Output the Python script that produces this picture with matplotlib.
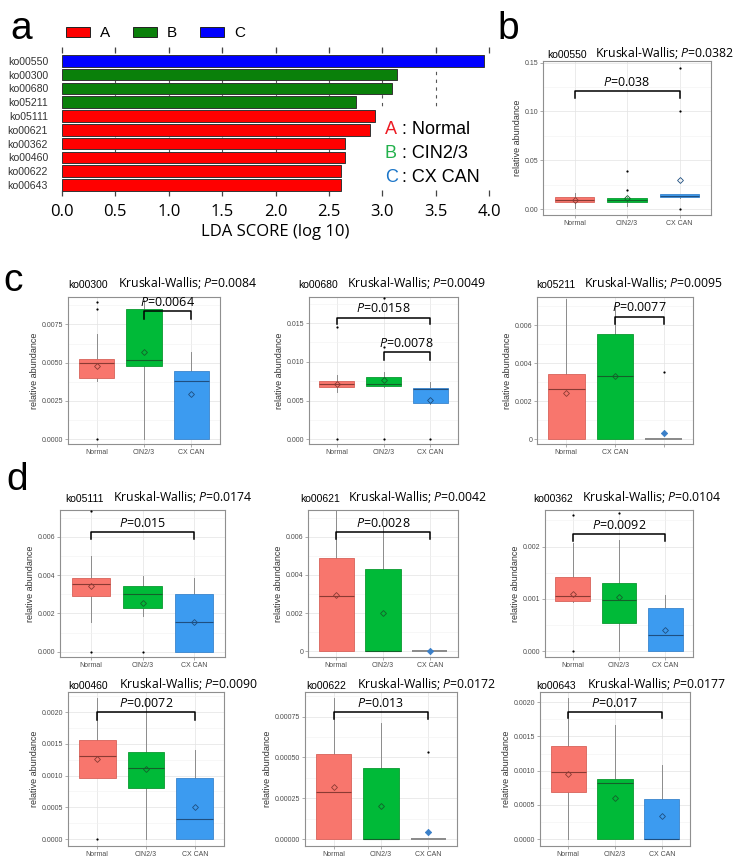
import matplotlib
matplotlib.use("Agg")
import matplotlib.pyplot as plt
from matplotlib.patches import Rectangle
from matplotlib.ticker import MultipleLocator

# ------------------------------------------------------------------------------------------
# figure size in pixels, everything below is placed in pixel units of the reference
W, H = 737, 865

plt.rcParams["mathtext.fontset"] = "custom"
plt.rcParams["mathtext.rm"] = "Open Sans"
plt.rcParams["mathtext.it"] = "Open Sans:italic"

# ------------------------------------------------------------------------------------------
# panel a: LDA scores
lda_features = ["ko00550", "ko00300", "ko00680", "ko05211", "ko05111",
                "ko00621", "ko00362", "ko00460", "ko00622", "ko00643"]
lda_scores = [3.95, 3.135, 3.09, 2.754, 2.93, 2.885, 2.65, 2.65, 2.617, 2.61]
lda_class = ["C", "B", "B", "B", "A", "A", "A", "A", "A", "A"]
lda_ticks = [0.0, 0.5, 1.0, 1.5, 2.0, 2.5, 3.0, 3.5, 4.0]
class_letters = ["A", "B", "C"]
group_names = ["Normal", "CIN2/3", "CX CAN"]

# ------------------------------------------------------------------------------------------
# box panels: per group [whislo, q1, median, q3, whishi], means, outliers
ko00550_box = [[0.0007, 0.0068, 0.0092, 0.0119, 0.0166],
               [0.003, 0.0068, 0.0088, 0.0112, 0.0125],
               [0.0115, 0.0119, 0.0135, 0.0153, 0.0155]]
ko00550_mean = [0.0092, 0.0115, 0.0295]
ko00550_fliers = [[], [0.02, 0.0385], [0.0, 0.1005, 0.1445]]
ko00550_kw = "0.0382"
ko00550_pairs = [(1, 3, 0.114, 0.121, "0.038")]

ko00300_box = [[0.0038, 0.00398, 0.00496, 0.00526, 0.00685],
               [0.0, 0.00478, 0.00518, 0.00849, 0.0091],
               [0.0, 0.0, 0.0038, 0.00446, 0.00568]]
ko00300_mean = [0.0048, 0.00568, 0.00296]
ko00300_fliers = [[0.0, 0.00849, 0.00894], [], []]
ko00300_kw = "0.0084"
ko00300_pairs = [(2, 3, 0.00783, 0.00837, "0.0064")]

ko00680_box = [[0.0061, 0.00674, 0.00717, 0.00751, 0.00824],
               [0.0068, 0.00687, 0.00718, 0.00811, 0.00867],
               [0.0045, 0.00469, 0.00654, 0.00667, 0.00738]]
ko00680_mean = [0.00715, 0.0077, 0.00504]
ko00680_fliers = [[0.0, 0.01456], [0.0, 0.01187, 0.0182], [0.0]]
ko00680_kw = "0.0049"
ko00680_pairs = [(1, 3, 0.01487, 0.01572, "0.0158"), (2, 3, 0.01026, 0.01123, "0.0078")]

ko05211_box = [[0.0, 0.0, 0.00265, 0.00344, 0.0074],
               [0.0, 0.0, 0.00335, 0.00553, 0.0071],
               [0.0, 0.0, 0.0, 0.0, 0.0]]
ko05211_mean = [0.00245, 0.0033, 0.00033]
ko05211_fliers = [[], [], [0.00356]]
ko05211_kw = "0.0095"
ko05211_pairs = [(2, 3, 0.00609, 0.00646, "0.0077")]
ko05211_xlabels = ["Normal", "CX CAN", ""]

ko05111_box = [[0.00157, 0.00293, 0.00352, 0.00383, 0.005],
               [0.00188, 0.00227, 0.003, 0.00343, 0.00395],
               [0.0, 0.0, 0.00153, 0.00301, 0.00386]]
ko05111_mean = [0.00345, 0.00256, 0.00153]
ko05111_fliers = [[0.0, 0.00735], [0.0], []]
ko05111_kw = "0.0174"
ko05111_pairs = [(1, 3, 0.00587, 0.00623, "0.015")]

ko00621_box = [[0.0, 0.0, 0.0029, 0.00489, 0.00738],
               [0.0, 0.0, 0.0, 0.00433, 0.0065],
               [0.0, 0.0, 0.0, 0.0, 0.0]]
ko00621_mean = [0.00293, 0.00203, 0.0]
ko00621_fliers = [[], [], []]
ko00621_kw = "0.0042"
ko00621_pairs = [(1, 3, 0.0059, 0.00625, "0.0028")]

ko00362_box = [[0.00095, 0.000957, 0.00106, 0.00141, 0.00207],
               [0.0, 0.00054, 0.00098, 0.0013, 0.00213],
               [0.0, 0.0, 0.00031, 0.00083, 0.00107]]
ko00362_mean = [0.0011, 0.00103, 0.00041]
ko00362_fliers = [[0.0, 0.00261], [0.00265], []]
ko00362_kw = "0.0104"
ko00362_pairs = [(1, 3, 0.00211, 0.00224, "0.0092")]

ko00460_box = [[0.00097, 0.00097, 0.00131, 0.00156, 0.00222],
               [0.0, 0.0008, 0.00112, 0.00137, 0.00222],
               [0.0, 0.0, 0.000315, 0.00097, 0.00141]]
ko00460_mean = [0.00126, 0.0011, 0.0005]
ko00460_fliers = [[0.0], [], []]
ko00460_kw = "0.0090"
ko00460_pairs = [(1, 3, 0.00188, 0.002, "0.0072")]

ko00622_box = [[0.0, 0.0, 0.000291, 0.000521, 0.000862],
               [0.0, 0.0, 0.0, 0.000434, 0.000713],
               [0.0, 0.0, 0.0, 0.0, 0.0]]
ko00622_mean = [0.000322, 0.000205, 0.0000446]
ko00622_fliers = [[], [], [0.000535]]
ko00622_kw = "0.0172"
ko00622_pairs = [(1, 3, 0.000733, 0.000776, "0.013")]

ko00643_box = [[0.0, 0.000683, 0.000976, 0.001366, 0.00206],
               [0.0, 0.0, 0.00082, 0.000873, 0.00167],
               [0.0, 0.0, 0.0, 0.00058, 0.00108]]
ko00643_mean = [0.00095, 0.000605, 0.00034]
ko00643_fliers = [[], [], []]
ko00643_kw = "0.0177"
ko00643_pairs = [(1, 3, 0.00177, 0.00186, "0.017")]

# ------------------------------------------------------------------------------------------
# colors
lda_colors = {"A": "#ff0000", "B": "#0a800a", "C": "#0000ff"}
legend_text_colors = {"A": "#ed1c24", "B": "#22b14c", "C": "#1b75c8"}
box_fill = ["#f8766d", "#00ba38", "#3c9bf0"]
box_edge = ["#d8625a", "#0a9a30", "#3a85cc"]
box_dark = ["#8a3a33", "#14602a", "#1f4f80"]


def px_box(l, t, r, b):
    return [l / W, 1 - b / H, (r - l) / W, (b - t) / H]


def px_xy(x, y):
    return x / W, 1 - y / H


fig = plt.figure(figsize=(W / 100, H / 100), dpi=100)

# ------------------------------------------------------------------------------------------
print("** panel a")
ax_a = fig.add_axes(px_box(62, 47, 489, 196))
y_pos = list(range(len(lda_features)))
ax_a.barh(y_pos, lda_scores, height=0.84,
          color=[lda_colors[c] for c in lda_class],
          edgecolor="#333333", linewidth=0.7, zorder=2)
ax_a.set_xlim(lda_ticks[0], lda_ticks[-1])
ax_a.set_ylim(9.8, -1.0)
# dotted grid, drawn from the top down so that a dash sits at the top
ax_a.vlines(lda_ticks[1:-1], -0.95, 9.8, colors="#555555", linewidth=0.8,
            linestyles=(0, (3, 4)), zorder=0.5)
# white block behind the group text
ax_a.add_patch(Rectangle((2.97, 3.45), 1.2, 6.6, facecolor="white",
                         edgecolor="none", zorder=1))
ax_a.set_yticks(y_pos)
ax_a.set_yticklabels(lda_features, fontsize=7.6, color="#333333",
                     fontfamily="Liberation Sans")
ax_a.set_xticks(lda_ticks)
ax_a.set_xticklabels(["{:.1f}".format(t) for t in lda_ticks], fontsize=12,
                     fontfamily="Open Sans")
ax_a.tick_params(axis="y", length=0, pad=10)
ax_a.tick_params(axis="x", top=True, bottom=True, direction="in",
                 length=4, width=0.9, color="#444444", pad=6)
for crrt_spine in ax_a.spines.values():
    crrt_spine.set_visible(False)
ax_a.set_xlabel("LDA SCORE (log 10)", fontsize=12, fontfamily="Open Sans",
                labelpad=3)

# legend above panel a
for crrt_index, crrt_letter in enumerate(class_letters):
    x0 = 66 + 67 * crrt_index
    fig.patches.append(Rectangle(px_xy(x0, 36.5), 24 / W, 9.5 / H,
                                 facecolor=lda_colors[crrt_letter],
                                 edgecolor="#222222", linewidth=0.7,
                                 transform=fig.transFigure, figure=fig))
    fig.text(*px_xy(x0 + 34, 37), crrt_letter, fontsize=11,
             fontfamily="Liberation Sans", va="baseline")

# group explanation text
for crrt_index, crrt_letter in enumerate(class_letters):
    y_base = 133.5 + 24 * crrt_index
    fig.text(*px_xy(385, y_base), crrt_letter, fontsize=13,
             color=legend_text_colors[crrt_letter],
             fontfamily="Liberation Sans", va="baseline")
    fig.text(*px_xy(402, y_base), ": " + group_names[crrt_index], fontsize=13,
             fontfamily="Liberation Sans", va="baseline")


# ------------------------------------------------------------------------------------------
def draw_box_panel(rect, ko_name, box, means, fliers, kw_p, pairs, ylim,
                   ystep, yfmt, id_x, kw_x, title_y, xlabels=group_names):
    ax = fig.add_axes(px_box(*rect))
    stats = []
    for i in range(3):
        wl, q1, md, q3, wh = box[i]
        stats.append(dict(whislo=wl, q1=q1, med=md, q3=q3, whishi=wh,
                          mean=means[i], fliers=fliers[i]))
    bp = ax.bxp(stats, positions=[1, 2, 3], widths=0.75, patch_artist=True,
                showcaps=False, showmeans=True, showfliers=True)
    for i in range(3):
        flat = box[i][1] == box[i][3]
        bp["boxes"][i].set_facecolor(box_fill[i])
        bp["boxes"][i].set_edgecolor("#9a9a9a" if flat else box_edge[i])
        bp["boxes"][i].set_linewidth(1.3 if flat else 0.6)
        bp["boxes"][i].set_zorder(2)
        bp["medians"][i].set_color("#8a8a8a" if flat else box_dark[i])
        bp["medians"][i].set_linewidth(1.3 if flat else 0.8)
        bp["medians"][i].set_zorder(2.5)
        for w in bp["whiskers"][2 * i:2 * i + 2]:
            w.set_color("#8c8c8c")
            w.set_linewidth(0.7)
            w.set_zorder(1.5)
        m = bp["means"][i]
        m.set_marker("D")
        m.set_markersize(3.2 if flat else 3)
        m.set_markeredgewidth(0.6)
        m.set_markeredgecolor("#3a7fc8" if flat else box_dark[i])
        m.set_markerfacecolor("#3a7fc8" if flat else "none")
        m.set_zorder(3)
        f = bp["fliers"][i]
        f.set_marker("o")
        f.set_markersize(1.6)
        f.set_markerfacecolor("black")
        f.set_markeredgecolor("black")
        f.set_markeredgewidth(0)
        f.set_zorder(3)

    ax.set_xlim(0.4, 3.6)
    ax.set_ylim(*ylim)
    ax.set_xticks([1, 2, 3])
    ax.set_xticklabels(xlabels)
    ax.yaxis.set_major_locator(MultipleLocator(ystep))
    ax.yaxis.set_minor_locator(MultipleLocator(ystep / 2))
    ax.yaxis.set_major_formatter(yfmt)
    ax.set_axisbelow(True)
    ax.grid(which="major", color="#e3e3e3", linewidth=0.5)
    ax.grid(which="minor", axis="y", color="#f1f1f1", linewidth=0.4)
    ax.tick_params(which="major", length=2, width=0.5, color="#8c8c8c",
                   labelsize=5, labelcolor="#4d4d4d", pad=1.5)
    ax.tick_params(which="minor", length=0)
    for lbl in ax.get_xticklabels() + ax.get_yticklabels():
        lbl.set_fontfamily("Liberation Sans")
    for crrt_spine in ax.spines.values():
        crrt_spine.set_color("#8f8f8f")
        crrt_spine.set_linewidth(0.8)
    ax.set_ylabel("relative abundance", fontsize=6.5, color="#333333",
                  fontfamily="Liberation Sans", labelpad=2)

    for x1, x2, y_leg, y_top, p_txt in pairs:
        ax.plot([x1, x1, x2, x2], [y_leg, y_top, y_top, y_leg], color="black",
                linewidth=1.1, clip_on=False, zorder=4)
        ax.annotate("$P$=" + p_txt, xy=((x1 + x2) / 2, y_top), xytext=(0, 1.5),
                    textcoords="offset points", ha="center", va="bottom",
                    fontsize=9, fontfamily="Open Sans", zorder=5)

    fig.text(*px_xy(id_x, title_y), ko_name, fontsize=7.5,
             fontfamily="Liberation Sans", va="baseline")
    fig.text(*px_xy(kw_x, title_y - 1), "Kruskal-Wallis; $P$=" + kw_p,
             fontsize=8.8, fontfamily="Open Sans", va="baseline")
    return ax


def fmt(n):
    return lambda v, pos: "{:.{}f}".format(v, n)


def fmt_zero(n):
    return lambda v, pos: "0" if abs(v) < 1e-12 else "{:.{}f}".format(v, n)


print("** panel b")
draw_box_panel((543, 61, 711, 215), "ko00550", ko00550_box, ko00550_mean,
               ko00550_fliers, ko00550_kw, ko00550_pairs, (-0.0061, 0.1517),
               0.05, fmt(2), 547, 595, 58)

print("** panel c")
draw_box_panel((68, 297, 220, 444), "ko00300", ko00300_box, ko00300_mean,
               ko00300_fliers, ko00300_kw, ko00300_pairs, (-0.00031, 0.00929),
               0.0025, fmt(4), 68, 118, 288)
draw_box_panel((309, 297, 458, 444), "ko00680", ko00680_box, ko00680_mean,
               ko00680_fliers, ko00680_kw, ko00680_pairs, (-0.0006, 0.01837),
               0.005, fmt(3), 298, 347, 288)
draw_box_panel((537, 297, 693, 444), "ko05211", ko05211_box, ko05211_mean,
               ko05211_fliers, ko05211_kw, ko05211_pairs, (-0.00026, 0.00749),
               0.002, fmt_zero(3), 536, 584, 288, xlabels=ko05211_xlabels)

print("** panel d")
draw_box_panel((60, 510, 225, 657), "ko05111", ko05111_box, ko05111_mean,
               ko05111_fliers, ko05111_kw, ko05111_pairs, (-0.00028, 0.0074),
               0.002, fmt(3), 65, 113, 502)
draw_box_panel((308, 510, 458, 657), "ko00621", ko00621_box, ko00621_mean,
               ko00621_fliers, ko00621_kw, ko00621_pairs, (-0.0003, 0.0074),
               0.002, fmt_zero(3), 300, 348, 502)
draw_box_panel((545, 510, 693, 657), "ko00362", ko00362_box, ko00362_mean,
               ko00362_fliers, ko00362_kw, ko00362_pairs, (-0.00011, 0.0027),
               0.001, fmt(3), 533, 582, 502)
draw_box_panel((68, 692, 224, 846), "ko00460", ko00460_box, ko00460_mean,
               ko00460_fliers, ko00460_kw, ko00460_pairs, (-0.00011, 0.00232),
               0.0005, fmt(4), 68, 119, 689)
draw_box_panel((305, 692, 457, 846), "ko00622", ko00622_box, ko00622_mean,
               ko00622_fliers, ko00622_kw, ko00622_pairs, (-0.000041, 0.0009),
               0.00025, fmt(5), 306, 357, 689)
draw_box_panel((540, 692, 690, 846), "ko00643", ko00643_box, ko00643_mean,
               ko00643_fliers, ko00643_kw, ko00643_pairs, (-0.0001, 0.00215),
               0.0005, fmt(4), 536, 587, 689)

# ------------------------------------------------------------------------------------------
# panel letters
for crrt_letter, x, y in [("a", 10, 39), ("b", 497, 39), ("c", 3, 291), ("d", 6, 490)]:
    fig.text(*px_xy(x, y), crrt_letter, fontsize=28, fontfamily="Liberation Sans",
             va="baseline")

fig.savefig("out.png", dpi=100)
